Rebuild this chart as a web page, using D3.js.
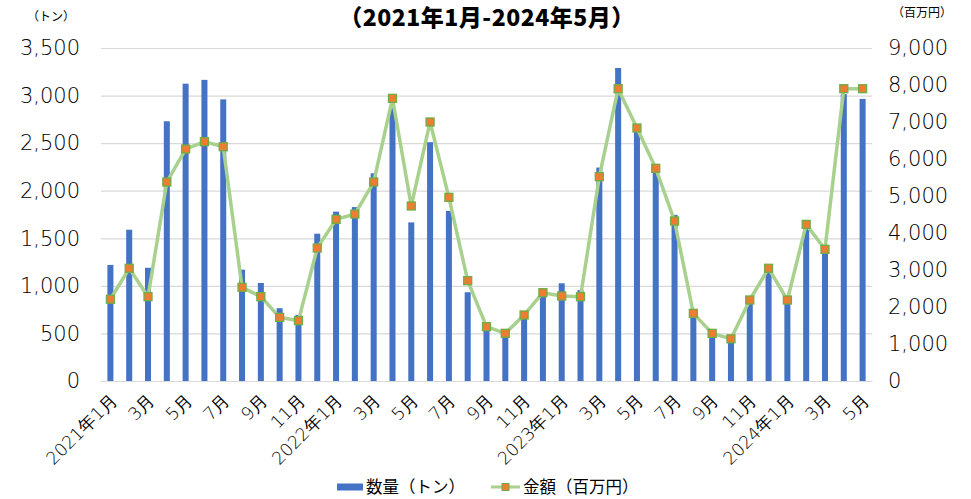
<!DOCTYPE html>
<html>
<head>
<meta charset="utf-8">
<script src="https://cdn.jsdelivr.net/npm/d3@7"></script>
<style>
  body { margin: 0; background: #fff; }
  svg { display: block; }
  text { font-family: "DejaVu Sans", "Noto Sans CJK JP", sans-serif; fill: #000; }
  .cjk { font-family: "Noto Sans CJK JP", sans-serif; }
  .num { font-family: "DejaVu Sans ExtraLight", "DejaVu Sans", sans-serif; font-weight: 200; }
</style>
</head>
<body>
<div id="chart"></div>
<script>
let width = 971;
let height = 499;
let margins = { top: 48, right: 99, bottom: 118, left: 101 };

// months 2021-01 .. 2024-05
let months = [];
for (let yr = 2021; yr <= 2024; yr++) {
    for (let m = 1; m <= 12; m++) {
        if (yr === 2024 && m > 5) break;
        months.push(yr + "-" + m);
    }
}
// 数量（トン）
let quantity = [1220, 1590, 1190, 2730, 3125, 3165, 2960, 1170, 1030, 765, 695, 1548,
    1780, 1828, 2183, 2868, 1667, 2510, 1788, 933, 560, 490, 660, 922,
    1027, 955, 2243, 3290, 2640, 2210, 1746, 720, 500, 440, 820, 1150,
    834, 1605, 1430, 3015, 2965];
// 金額（百万円）
let amount = [2210, 3046, 2279, 5378, 6270, 6468, 6332, 2532, 2279, 1721, 1631, 3595,
    4369, 4513, 5378, 7640, 4730, 7000, 4964, 2711, 1468, 1288, 1784, 2387,
    2297, 2279, 5522, 7900, 6838, 5748, 4324, 1829, 1288, 1140, 2189, 3046,
    2189, 4234, 3559, 7900, 7900];
let leftTicks = [0, 500, 1000, 1500, 2000, 2500, 3000, 3500];
let rightTicks = [0, 1000, 2000, 3000, 4000, 5000, 6000, 7000, 8000, 9000];

let data = months.map((d, i) => ({ id: d, qty: quantity[i], amt: amount[i] }));

let plotW = width - margins.left - margins.right;
let plotH = 333;

let svg = d3.select("#chart").append("svg")
    .attr("width", width)
    .attr("height", height);

let g = svg.append("g")
    .attr("transform", "translate(" + margins.left + "," + margins.top + ")");

let x = d3.scaleBand()
    .domain(months)
    .range([0, plotW])
    .paddingInner(0.68)
    .paddingOuter(0.34);
let yL = d3.scaleLinear().domain([0, 3500]).range([plotH, 0]);
let yR = d3.scaleLinear().domain([0, 9000]).range([plotH, 0]);

// grid
g.append("g")
    .attr("class", "grid")
    .call(d3.axisLeft(yL).tickValues(leftTicks).tickSize(-plotW).tickFormat(""))
    .call(s => s.select(".domain").remove())
    .call(s => s.selectAll(".tick line").attr("stroke", "#d9d9d9").attr("stroke-width", 1.2));

// left axis labels
g.append("g")
    .call(d3.axisLeft(yL).tickValues(leftTicks).tickSize(0).tickPadding(21).tickFormat(d3.format(",")))
    .call(s => s.select(".domain").remove())
    .selectAll("text")
    .attr("class", "num")
    .style("font-size", "21px")
    .attr("fill", "#111");

// right axis labels
g.append("g")
    .attr("transform", "translate(" + plotW + ",0)")
    .call(d3.axisRight(yR).tickValues(rightTicks).tickSize(0).tickPadding(16).tickFormat(d3.format(",")))
    .call(s => s.select(".domain").remove())
    .selectAll("text")
    .attr("class", "num")
    .style("font-size", "21px")
    .attr("fill", "#111");

// bars
g.append("g").attr("class", "bars")
    .selectAll("rect")
    .data(data)
    .enter().append("rect")
    .attr("x", d => x(d.id))
    .attr("width", x.bandwidth())
    .attr("y", d => yL(d.qty))
    .attr("height", d => plotH - yL(d.qty))
    .attr("fill", "#4472c4");

// x labels every other month
let xAxis = g.append("g")
    .attr("transform", "translate(0," + plotH + ")")
    .call(d3.axisBottom(x)
        .tickValues(months.filter((d, i) => i % 2 === 0))
        .tickSize(0)
        .tickFormat(d => {
            let p = d.split("-");
            return p[1] === "1" ? p[0] + "年1月" : p[1] + "月";
        }));
xAxis.select(".domain").attr("stroke", "#d9d9d9").attr("stroke-width", 1.2);
xAxis.selectAll("text")
    .attr("class", "num")
    .style("font-size", "17.5px")
    .attr("fill", "#111")
    .attr("text-anchor", "end")
    .attr("dy", 0)
    .attr("y", 0)
    .attr("transform", "translate(8,20) rotate(-45)");

// line
let cx = d => x(d.id) + x.bandwidth() / 2;
g.append("path")
    .datum(data)
    .attr("fill", "none")
    .attr("stroke", "#a9d18e")
    .attr("stroke-width", 3.5)
    .attr("stroke-linejoin", "round")
    .attr("d", d3.line().x(cx).y(d => yR(d.amt)));

g.append("g").attr("class", "markers")
    .selectAll("rect")
    .data(data)
    .enter().append("rect")
    .attr("x", d => cx(d) - 4)
    .attr("y", d => yR(d.amt) - 4)
    .attr("width", 8)
    .attr("height", 8)
    .attr("fill", "#ed7d31")
    .attr("stroke", "#70ad47")
    .attr("stroke-width", 1.3);

// title and units
svg.append("text")
    .attr("class", "cjk")
    .attr("x", 487).attr("y", 26)
    .attr("text-anchor", "middle")
    .style("font-size", "23px")
    .style("font-weight", 900)
    .style("letter-spacing", "0.5px")
    .text("（2021年1月-2024年5月）");
svg.append("text")
    .attr("class", "cjk")
    .attr("x", 51).attr("y", 21)
    .attr("text-anchor", "middle")
    .style("font-size", "12px")
    .attr("fill", "#333")
    .text("（トン）");
svg.append("text")
    .attr("class", "cjk")
    .attr("x", 922).attr("y", 17)
    .attr("text-anchor", "middle")
    .style("font-size", "12px")
    .attr("fill", "#333")
    .text("（百万円）");

// legend
let legend = svg.append("g").attr("transform", "translate(0,487)");
legend.append("rect")
    .attr("x", 337).attr("y", -3.5).attr("width", 26).attr("height", 7)
    .attr("fill", "#4472c4");
legend.append("text")
    .attr("class", "cjk")
    .attr("x", 366).attr("y", 6)
    .style("font-size", "16.5px")
    .attr("fill", "#222")
    .text("数量（トン）");
legend.append("line")
    .attr("x1", 491).attr("x2", 520).attr("y1", 0).attr("y2", 0)
    .attr("stroke", "#a9d18e").attr("stroke-width", 3);
legend.append("rect")
    .attr("x", 502).attr("y", -3.5).attr("width", 7).attr("height", 7)
    .attr("fill", "#ed7d31").attr("stroke", "#70ad47").attr("stroke-width", 1);
legend.append("text")
    .attr("class", "cjk")
    .attr("x", 523).attr("y", 6)
    .style("font-size", "16.5px")
    .attr("fill", "#222")
    .text("金額（百万円）");
</script>
</body>
</html>
